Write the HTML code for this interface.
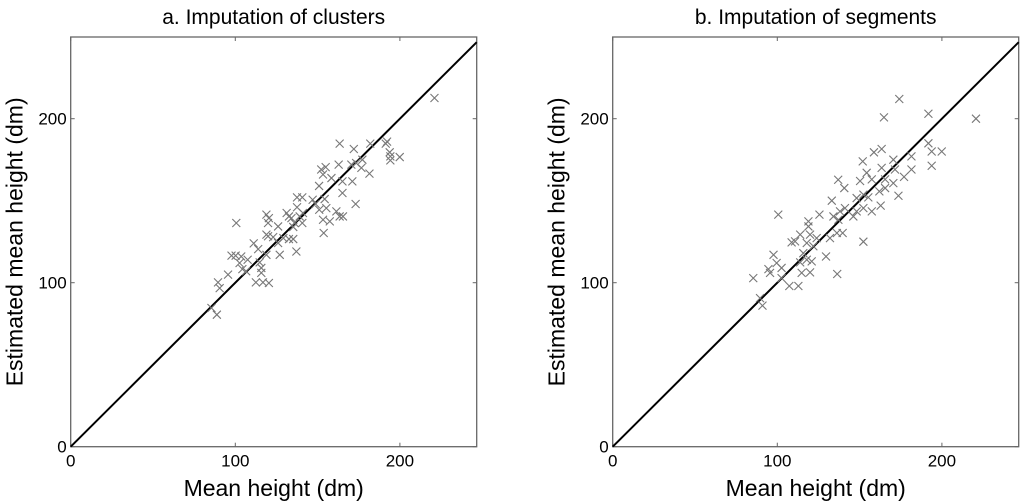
<!DOCTYPE html>
<html><head><meta charset="utf-8"><style>
body{margin:0;background:#fff;}
svg{display:block;font-family:"Liberation Sans",Arial,sans-serif;}
</style></head><body>
<svg id="chart" width="1024" height="502" viewBox="0 0 1024 502"></svg>
<script>
const ticks=[0,100,200];
const tickLabels=["0","100","200"];
const titles=["a. Imputation of clusters","b. Imputation of segments"];
const clustersX=[221,85.5,88.8,89.5,90.5,95.6,97.7,100.6,100.2,103.6,102.6,104.3,106.6,107.5,111.2,113.9,112.5,116.8,120.4,114.8,115.8,115.8,118.9,120.4,119.9,118.9,119.9,123,118.9,126,126,127,129.2,132.6,132.6,134.1,136,135.2,137.1,137.5,140.7,137.5,139.1,140.7,148.8,150.9,151,154.3,155.3,153.3,153.7,157.4,152.2,154.9,153.3,158.4,162.8,163.4,161.4,163.4,165.4,165.1,165.1,171.1,172,170.5,173.4,177.2,176.6,181.5,173.1,182,191.4,192.2,193.8,194.2,194.2,199.9,147,135.2,141.1,131.2];
const clustersY=[212.6,84.6,80.5,100.2,96.7,104.9,116.5,136.4,116.5,116,112,108.3,107,114,124,120.5,100.2,100.2,99.8,112.4,109,106,141.5,139.4,136.4,129.3,128.3,127.8,117,134.3,124.2,117,127.2,126.6,140.4,139.4,136.4,126.6,119,152,152,146,140.4,136.4,148,159,144.5,151,145.5,138.4,130.3,137.4,169,170.5,166,163.8,172,184.8,143.5,140.4,140.4,154.7,161.8,161.8,181.5,172,173,175,170,166.5,148,184.8,184.8,186,179.5,177,174.6,176.6,150.6,134,142.5,142.5];
const segmentsX=[174.1,164.8,191.8,220.7,191.8,193.8,199.9,193.8,181.5,181.5,177,173.6,170.5,171.5,163.4,158.7,151.9,154.3,150.3,157.4,163.4,165.5,165.5,162,162.8,152.3,155.3,148.2,152.3,157.4,148.2,152.3,137,140.7,133.1,134.1,138.1,141.1,137.1,139.7,136.2,132,129.6,136.4,125.6,118.9,118.9,100.6,113.9,119.9,123.9,108.7,110.8,117.9,121.9,115.8,117.9,120.9,113.9,97.7,94.6,95.6,99.6,102.6,102.6,107.3,112.8,114.8,119.9,85.4,89.5,91,170.5,146.2];
const segmentsY=[212,200.8,203,200,185,180,180,171.3,177,169,164.5,153,175,169,181.5,179.5,174,167,162,163,170,163,157.7,155.7,147,153.7,152,151.6,145.5,143.5,143.5,125,162.8,157.7,150,140.4,143.5,145.5,138.4,130.3,130.3,127.2,116,105.3,141.5,137.4,134.3,141.5,129.3,129.3,127.2,124.6,125.2,124.2,122.2,118,114,113,112.4,117,108.3,106,112,109,102.8,98,98,106,106.3,102.8,90.6,86,160.7,140.4];

const svg=document.getElementById('chart');
const NS='http://www.w3.org/2000/svg';
function mk(tag,attrs,parent){const e=document.createElementNS(NS,tag);for(const k in attrs)e.setAttribute(k,attrs[k]);(parent||svg).appendChild(e);return e;}

const panels=[{left:70.7,xs:clustersX,ys:clustersY,name:'clusters'},{left:612.7,xs:segmentsX,ys:segmentsY,name:'segments'}];
const plotTop=37,plotBottom=446.7,plotWidth=406,kx=1.646,ky=1.64;
panels.forEach((p,i)=>{
  const X=v=>p.left+v*kx, Y=v=>plotBottom-v*ky;
  const g=mk('g',{});
  
  
  const frame=mk('rect',{x:p.left,y:plotTop,width:plotWidth,height:plotBottom-plotTop,fill:'none',stroke:'#666','stroke-width':1.3},g);
  
  
  ticks.forEach((t,j)=>{
    mk('line',{x1:X(t),x2:X(t),y1:plotBottom,y2:plotBottom-4,stroke:'#666','stroke-width':1},g);
    mk('line',{x1:X(t),x2:X(t),y1:plotTop,y2:plotTop+4,stroke:'#666','stroke-width':1},g);
    mk('line',{x1:p.left,x2:p.left+4,y1:Y(t),y2:Y(t),stroke:'#666','stroke-width':1},g);
    mk('line',{x1:p.left+plotWidth,x2:p.left+plotWidth-4,y1:Y(t),y2:Y(t),stroke:'#666','stroke-width':1},g);
    const xl=mk('text',{x:X(t),y:plotBottom+20,'text-anchor':'middle','font-size':17},g);
    xl.textContent=tickLabels[j];
    
    
    const yl=mk('text',{x:p.left-4,y:Y(t)+6,'text-anchor':'end','font-size':17},g);
    yl.textContent=tickLabels[j];
    
    
  });
  const lmax=Math.min((plotBottom-plotTop)/ky,plotWidth/kx);
  const ln=mk('line',{x1:X(0),y1:Y(0),x2:X(lmax),y2:Y(lmax),stroke:'#000','stroke-width':2},g);
  
  
  p.xs.forEach((xv,k)=>{
    const cx=X(xv),cy=Y(p.ys[k]),s=4;
    const m=mk('path',{d:`M${cx-s},${cy-s}L${cx+s},${cy+s}M${cx-s},${cy+s}L${cx+s},${cy-s}`,stroke:'#777','stroke-width':1.1,fill:'none'},g);
    
    
  });
  const t=mk('text',{x:p.left+plotWidth/2,y:24,'text-anchor':'middle','font-size':21},g);
  t.textContent=titles[i];
  
  
  const xt=mk('text',{x:p.left+plotWidth/2,y:496,'text-anchor':'middle','font-size':23},g);
  xt.textContent='Mean height (dm)';
  
  
  const yx=p.left-48, yy=(plotTop+plotBottom)/2;
  const yt=mk('text',{x:yx,y:yy,'text-anchor':'middle','font-size':23,transform:`rotate(-90 ${yx} ${yy})`},g);
  yt.textContent='Estimated mean height (dm)';
  
  
});
</script>
</body></html>
